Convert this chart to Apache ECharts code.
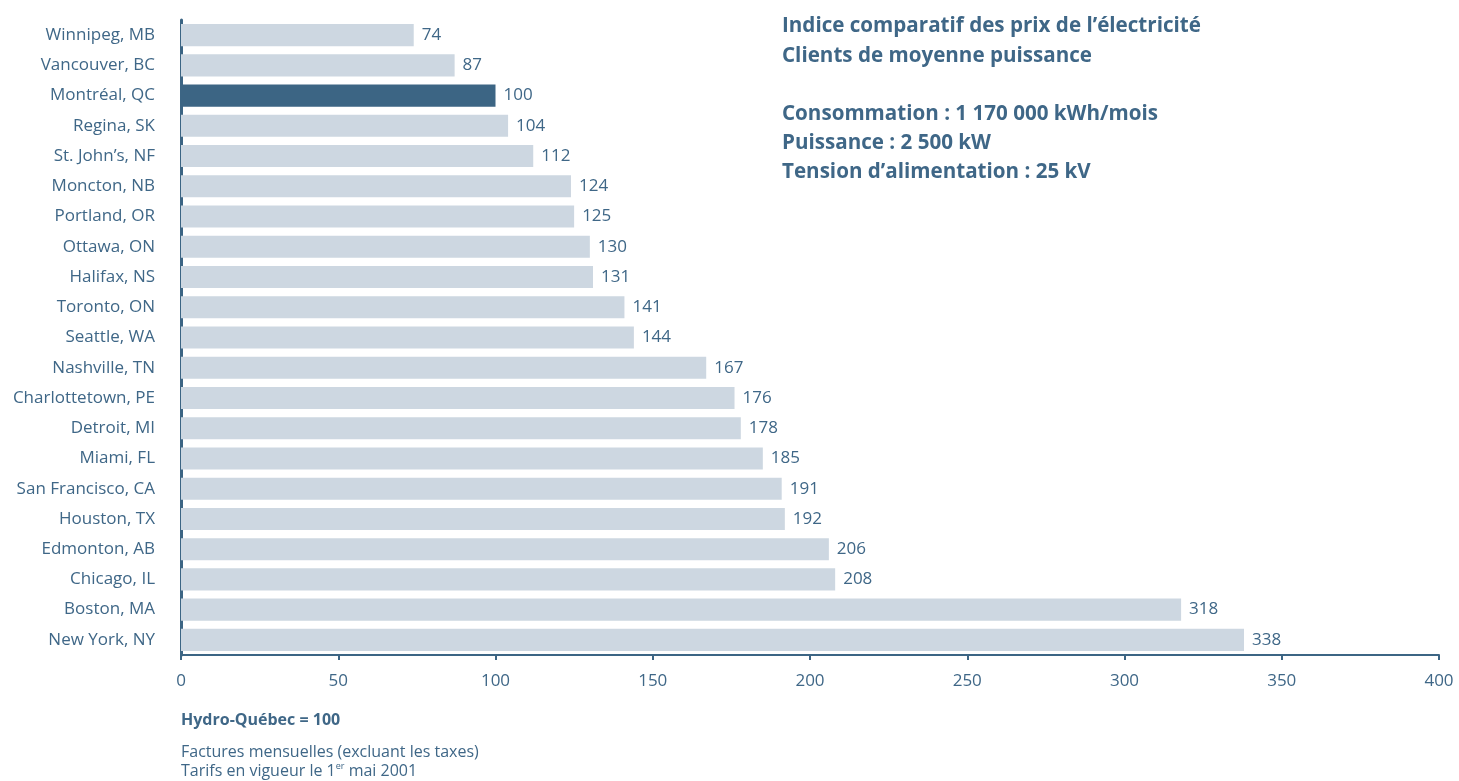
<!DOCTYPE html>
<html>
<head>
<meta charset="utf-8">
<script src="https://cdn.jsdelivr.net/npm/echarts@6/dist/echarts.min.js"></script>
<style>
html, body { margin: 0; padding: 0; background: #fff; }
#chart { width: 1459px; height: 781px; }
</style>
</head>
<body>
<div id="chart"></div>
<script>
// données
var cities = ['Winnipeg, MB', 'Vancouver, BC', 'Montréal, QC', 'Regina, SK', 'St. John\u2019s, NF',
    'Moncton, NB', 'Portland, OR', 'Ottawa, ON', 'Halifax, NS', 'Toronto, ON', 'Seattle, WA',
    'Nashville, TN', 'Charlottetown, PE', 'Detroit, MI', 'Miami, FL', 'San Francisco, CA',
    'Houston, TX', 'Edmonton, AB', 'Chicago, IL', 'Boston, MA', 'New York, NY'];
var indices = [74, 87, 100, 104, 112, 124, 125, 130, 131, 141, 144, 167, 176, 178, 185, 191, 192, 206, 208, 318, 338];
var xTicks = [0, 50, 100, 150, 200, 250, 300, 350, 400];
var reference = 'Montréal, QC';

var dark = '#3c6584';
var light = '#cdd7e1';
var txt = '#3f6787';
var font = 'Open Sans';

var myChart = echarts.init(document.getElementById('chart'));
var barData = indices.map(function (v, i) {
    if (cities[i] === reference) {
        return { value: v, itemStyle: { color: dark } };
    }
    return v;
});

var option = {
    backgroundColor: '#fff',
    textStyle: { fontFamily: font, color: txt },
    title: [
        {
            text: 'Indice comparatif des prix de l\u2019électricité\nClients de moyenne puissance\n\nConsommation : 1 170 000 kWh/mois\nPuissance : 2 500 kW\nTension d\u2019alimentation : 25 kV',
            left: 782,
            top: 12,
            padding: 0,
            textStyle: { fontFamily: font, fontSize: 20.6, fontWeight: 'bold', color: txt, lineHeight: 29.2 }
        },
        {
            text: 'Hydro-Québec = 100',
            left: 181,
            top: 712,
            padding: 0,
            textStyle: { fontFamily: font, fontSize: 16, fontWeight: 'bold', color: txt }
        },
        {
            text: '{t|Factures mensuelles (excluant les taxes)}\n{t|Tarifs en vigueur le 1}{s|er}{t| mai 2001}',
            left: 181,
            top: 743,
            padding: 0,
            textStyle: {
                fontWeight: 'normal',
                rich: {
                    t: { fontFamily: font, fontSize: 16, fontWeight: 'normal', color: txt, lineHeight: 19 },
                    s: { fontFamily: font, fontSize: 9, fontWeight: 'normal', color: txt, lineHeight: 19, verticalAlign: 'top' }
                }
            }
        }
    ],
    grid: { left: 181, right: 20, top: 20, bottom: 126, containLabel: false },
    xAxis: {
        type: 'value',
        min: xTicks[0],
        max: xTicks[xTicks.length - 1],
        interval: 50,
        splitLine: { show: false },
        axisLine: { show: true, lineStyle: { color: dark, width: 2 } },
        axisTick: { show: true, length: 5, lineStyle: { color: dark, width: 2 } },
        axisLabel: { margin: 18, fontSize: 17, color: txt, fontFamily: font }
    },
    yAxis: {
        type: 'category',
        inverse: true,
        data: cities,
        axisLine: { show: true, lineStyle: { color: dark, width: 3 } },
        axisTick: { show: false },
        axisLabel: { margin: 26, fontSize: 17, color: txt, fontFamily: font }
    },
    series: [
        {
            name: 'Indice',
            type: 'bar',
            data: barData,
            barCategoryGap: '27%',
            itemStyle: { color: light },
            label: {
                show: true,
                position: 'right',
                distance: 8,
                fontSize: 17,
                color: txt,
                fontFamily: font
            },
            silent: true
        }
    ],
    animation: false
};
myChart.setOption(option);
</script>
</body>
</html>
